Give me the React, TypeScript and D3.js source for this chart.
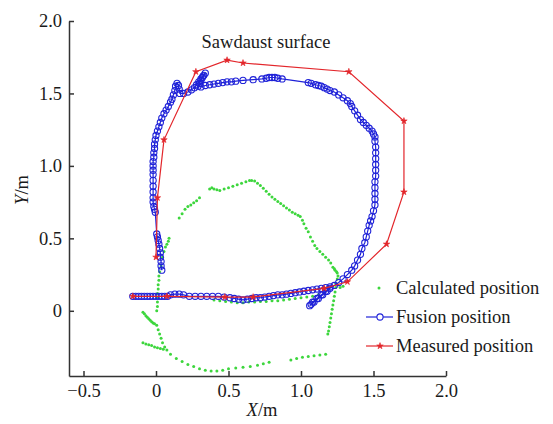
import React, { useEffect, useRef } from "react";
import * as d3 from "d3";

// tick labels
const xTicks = [-0.5, 0, 0.5, 1.0, 1.5, 2.0];
const yTicks = [0, 0.5, 1.0, 1.5, 2.0];

const seriesNames = ["Calculated position", "Fusion position", "Measured position"];

// measured (reference) path
const measuredPosition: [number, number][] = [
  [-0.16, 0.1], [0.075, 0.1], [0.475, 0.095], [0.67, 0.095], [1.16, 0.155], [1.32, 0.2],
  [1.59, 0.46], [1.71, 0.82], [1.71, 1.31], [1.33, 1.65], [0.6, 1.71], [0.49, 1.73],
  [0.275, 1.65], [0.055, 1.18], [0.01, 0.78], [0.0, 0.37],
];

// fusion path
const fusionPosition: [number, number][] = [
  [-0.16, 0.1], [-0.14, 0.1], [-0.12, 0.1], [-0.1, 0.1], [-0.08, 0.1], [-0.06, 0.1], [-0.04, 0.1],
  [-0.02, 0.1], [0.0, 0.1], [0.02, 0.1], [0.04, 0.1], [0.06, 0.1], [0.08, 0.1], [0.1, 0.11],
  [0.13, 0.115], [0.16, 0.115], [0.19, 0.11], [0.23, 0.1], [0.27, 0.1], [0.31, 0.1], [0.35, 0.1],
  [0.39, 0.1], [0.43, 0.1], [0.47, 0.095], [0.51, 0.09], [0.54, 0.085], [0.57, 0.08], [0.6, 0.075],
  [0.63, 0.08], [0.66, 0.085], [0.69, 0.09], [0.72, 0.09], [0.75, 0.095], [0.78, 0.1], [0.81, 0.105],
  [0.84, 0.11], [0.87, 0.11], [0.9, 0.115], [0.93, 0.12], [0.96, 0.125], [0.99, 0.13], [1.02, 0.135],
  [1.05, 0.14], [1.08, 0.145], [1.11, 0.15], [1.14, 0.155], [1.17, 0.16], [1.2, 0.165],
  [1.18, 0.135], [1.15, 0.11], [1.12, 0.085], [1.09, 0.06], [1.07, 0.045], [1.06, 0.035],
  [1.08, 0.06], [1.11, 0.085], [1.14, 0.11], [1.17, 0.135], [1.2, 0.155], [1.23, 0.175],
  [1.26, 0.195], [1.29, 0.22], [1.32, 0.25], [1.35, 0.28], [1.37, 0.31], [1.39, 0.35], [1.41, 0.39],
  [1.42, 0.43], [1.44, 0.47], [1.45, 0.51], [1.46, 0.55], [1.47, 0.59], [1.48, 0.62], [1.49, 0.65],
  [1.5, 0.69], [1.51, 0.73], [1.51, 0.77], [1.51, 0.81], [1.51, 0.85], [1.51, 0.89], [1.515, 0.93],
  [1.515, 0.97], [1.515, 1.01], [1.515, 1.05], [1.515, 1.09], [1.515, 1.13], [1.51, 1.17],
  [1.51, 1.2], [1.5, 1.22], [1.49, 1.24], [1.47, 1.26], [1.45, 1.28], [1.43, 1.3], [1.41, 1.32],
  [1.39, 1.35], [1.37, 1.38], [1.35, 1.41], [1.34, 1.43], [1.32, 1.45], [1.29, 1.47], [1.26, 1.49],
  [1.23, 1.51], [1.2, 1.52], [1.18, 1.53], [1.16, 1.54], [1.14, 1.55], [1.12, 1.555], [1.1, 1.56],
  [1.07, 1.57], [1.05, 1.575], [0.87, 1.6], [0.84, 1.605], [0.82, 1.61], [0.8, 1.61], [0.78, 1.61],
  [0.76, 1.605], [0.73, 1.6], [0.67, 1.595], [0.6, 1.59], [0.55, 1.585], [0.52, 1.58], [0.49, 1.58],
  [0.46, 1.575], [0.43, 1.57], [0.4, 1.565], [0.37, 1.56], [0.34, 1.555], [0.31, 1.545], [0.29, 1.55],
  [0.3, 1.57], [0.31, 1.59], [0.32, 1.61], [0.33, 1.625], [0.34, 1.64], [0.325, 1.62], [0.31, 1.6],
  [0.295, 1.58], [0.28, 1.56], [0.265, 1.54], [0.245, 1.525], [0.22, 1.51], [0.19, 1.5], [0.165, 1.5],
  [0.16, 1.53], [0.155, 1.555], [0.145, 1.57], [0.135, 1.55], [0.13, 1.52], [0.12, 1.49], [0.11, 1.46],
  [0.1, 1.44], [0.085, 1.41], [0.07, 1.385], [0.055, 1.36], [0.04, 1.33], [0.03, 1.3], [0.02, 1.27],
  [0.01, 1.24], [0.0, 1.21], [-0.005, 1.18], [-0.01, 1.15], [-0.01, 1.12], [-0.015, 1.09],
  [-0.015, 1.06], [-0.02, 1.03], [-0.02, 1.0], [-0.02, 0.97], [-0.02, 0.94], [-0.02, 0.9],
  [-0.02, 0.86], [-0.02, 0.82], [-0.02, 0.78], [-0.02, 0.75], [-0.015, 0.72], [-0.01, 0.7],
  [-0.005, 0.68], [0.005, 0.53], [0.01, 0.51], [0.015, 0.485], [0.02, 0.46], [0.025, 0.43],
  [0.03, 0.4], [0.03, 0.37], [0.035, 0.34], [0.035, 0.31], [0.04, 0.28],
];

// calculated positions (dots only)
const calculatedPosition: [number, number][] = [
  // left column
  [0.025, 0.27], [0.02, 0.24], [0.02, 0.21], [0.015, 0.18], [0.015, 0.15], [0.01, 0.12], [0.01, 0.09],
  [0.01, 0.06], [0.01, 0.03], [0.005, 0.0],
  [0.035, 0.31], [0.045, 0.37], [0.055, 0.41], [0.065, 0.44], [0.075, 0.46], [0.085, 0.48], [0.09, 0.5],
  // upper arc
  [0.16, 0.64], [0.18, 0.67], [0.2, 0.7], [0.22, 0.72], [0.24, 0.73], [0.26, 0.745], [0.28, 0.76],
  [0.3, 0.78], [0.37, 0.84], [0.385, 0.85], [0.4, 0.84], [0.42, 0.835], [0.44, 0.83], [0.47, 0.84],
  [0.5, 0.85], [0.53, 0.86], [0.56, 0.87], [0.59, 0.88], [0.62, 0.89], [0.645, 0.9], [0.66, 0.9],
  [0.68, 0.895], [0.7, 0.88], [0.72, 0.865], [0.74, 0.845], [0.76, 0.825], [0.78, 0.805],
  [0.8, 0.785], [0.82, 0.77], [0.84, 0.755], [0.86, 0.74], [0.88, 0.725], [0.9, 0.71], [0.92, 0.695],
  [0.94, 0.68], [0.96, 0.67], [0.98, 0.66], [0.995, 0.65], [1.01, 0.625], [1.02, 0.6], [1.035, 0.57],
  [1.05, 0.545], [1.065, 0.51], [1.08, 0.48], [1.095, 0.45], [1.11, 0.43], [1.13, 0.41], [1.15, 0.39],
  [1.17, 0.37], [1.19, 0.35], [1.205, 0.33], [1.22, 0.3], [1.23, 0.29], [1.235, 0.28], [1.245, 0.27],
  [1.25, 0.26], [1.255, 0.24], [1.25, 0.22], [1.24, 0.19], [1.24, 0.16], [1.235, 0.13], [1.23, 0.1],
  [1.225, 0.07], [1.22, 0.04], [1.215, 0.01], [1.21, -0.02], [1.205, -0.05], [1.2, -0.08],
  [1.195, -0.11], [1.19, -0.14], [1.185, -0.16], [1.27, 0.16], [1.29, 0.17],
  // band under the fusion line
  [0.4, 0.075], [0.44, 0.07], [0.48, 0.065], [0.52, 0.06], [0.56, 0.055], [0.6, 0.055], [0.64, 0.06],
  [0.68, 0.06], [0.72, 0.065], [0.76, 0.065], [0.8, 0.07], [0.84, 0.07], [0.88, 0.075], [0.92, 0.08],
  [0.96, 0.085], [1.0, 0.09], [1.04, 0.095], [1.08, 0.1], [1.12, 0.11],
  // lower left
  [-0.09, -0.01], [-0.08, -0.02], [-0.07, -0.035], [-0.06, -0.045], [-0.05, -0.055], [-0.04, -0.065],
  [-0.03, -0.075], [-0.02, -0.085], [-0.01, -0.09], [0.005, -0.1], [0.015, -0.13], [0.025, -0.16],
  [0.035, -0.19], [0.045, -0.22], [0.06, -0.25], [0.075, -0.27],
  [-0.09, -0.22], [-0.07, -0.23], [-0.05, -0.235], [-0.03, -0.24], [-0.01, -0.25], [0.01, -0.255],
  [0.03, -0.26], [0.05, -0.265],
  // bottom arc
  [0.1, -0.3], [0.14, -0.33], [0.18, -0.35], [0.22, -0.37], [0.26, -0.385], [0.3, -0.4], [0.34, -0.41],
  [0.38, -0.415], [0.42, -0.415], [0.46, -0.41], [0.5, -0.4], [0.55, -0.395], [0.6, -0.39],
  [0.65, -0.385], [0.7, -0.375], [0.74, -0.365], [0.78, -0.355],
  [0.93, -0.34], [0.97, -0.33], [1.01, -0.32], [1.05, -0.315], [1.09, -0.31], [1.13, -0.305],
  [1.17, -0.3],
];

const GREEN = "#3dd63d";
const BLUE = "#1f22d8";
const RED = "#e3262b";
const FONT = "'Liberation Serif', 'Times New Roman', serif";
const FS = 18.5;

function fmt(v: number) {
  if (v === 0) return "0";
  return (v < 0 ? "\u2212" : "") + Math.abs(v).toFixed(1);
}

function App() {
  const chart = useRef<SVGSVGElement>(null);

  function drawChart() {
    const svg = d3.select(chart.current);
    svg.selectAll("*").remove();

    const x = d3.scaleLinear().domain([-0.6, 2.0]).range([69, 446]);
    const y = d3.scaleLinear().domain([-0.45, 2.0]).range([376, 21]);

    // calculated dots
    svg
      .append("g")
      .selectAll("circle")
      .data(calculatedPosition)
      .enter()
      .append("circle")
      .attr("cx", (d) => x(d[0]))
      .attr("cy", (d) => y(d[1]))
      .attr("r", 1.5)
      .attr("fill", GREEN);

    const line = d3
      .line<[number, number]>()
      .x((d) => x(d[0]))
      .y((d) => y(d[1]));

    // fusion
    svg
      .append("path")
      .attr("d", line(fusionPosition))
      .attr("fill", "none")
      .attr("stroke", BLUE)
      .attr("stroke-width", 1.2);
    svg
      .append("g")
      .selectAll("circle")
      .data(fusionPosition)
      .enter()
      .append("circle")
      .attr("cx", (d) => x(d[0]))
      .attr("cy", (d) => y(d[1]))
      .attr("r", 3.1)
      .attr("fill", "none")
      .attr("stroke", BLUE)
      .attr("stroke-width", 1.1);

    // measured
    const star = d3.symbol().type(d3.symbolStar).size(13);
    svg
      .append("path")
      .attr("d", line(measuredPosition))
      .attr("fill", "none")
      .attr("stroke", RED)
      .attr("stroke-width", 1.2);
    svg
      .append("g")
      .selectAll("path")
      .data(measuredPosition)
      .enter()
      .append("path")
      .attr("d", star() as string)
      .attr("transform", (d) => "translate(" + x(d[0]) + "," + y(d[1]) + ")")
      .attr("fill", RED)
      .attr("stroke", RED)
      .attr("stroke-width", 0.6);

    // axes
    const xAxis = d3
      .axisBottom(x)
      .tickValues(xTicks)
      .tickFormat((d) => fmt(d as number))
      .tickSizeInner(-5)
      .tickSizeOuter(0)
      .tickPadding(8);
    const yAxis = d3
      .axisLeft(y)
      .tickValues(yTicks)
      .tickFormat((d) => fmt(d as number))
      .tickSizeInner(-5)
      .tickSizeOuter(0)
      .tickPadding(7);

    const gx = svg.append("g").attr("transform", "translate(0,376)").call(xAxis);
    const gy = svg.append("g").attr("transform", "translate(69,0)").call(yAxis);
    [gx, gy].forEach((g) => {
      g.selectAll("path, line").attr("stroke", "#333").attr("stroke-width", 1.5);
      g.selectAll("text").attr("font-family", FONT).attr("font-size", FS).attr("fill", "#1a1a1a");
    });

    // title and axis labels
    svg
      .append("text")
      .attr("x", 266)
      .attr("y", 48)
      .attr("text-anchor", "middle")
      .attr("font-family", FONT)
      .attr("font-size", FS)
      .attr("fill", "#1a1a1a")
      .text("Sawdaust surface");

    const xl = svg
      .append("text")
      .attr("x", 262)
      .attr("y", 416)
      .attr("text-anchor", "middle")
      .attr("font-family", FONT)
      .attr("font-size", FS)
      .attr("fill", "#1a1a1a");
    xl.append("tspan").attr("font-style", "italic").text("X");
    xl.append("tspan").text("/m");

    const yl = svg
      .append("text")
      .attr("transform", "translate(28,190) rotate(-90)")
      .attr("text-anchor", "middle")
      .attr("font-family", FONT)
      .attr("font-size", FS)
      .attr("fill", "#1a1a1a");
    yl.append("tspan").attr("font-style", "italic").text("Y");
    yl.append("tspan").text("/m");

    // legend
    const legend = svg
      .selectAll(".legend")
      .data(seriesNames)
      .enter()
      .append("g")
      .attr("class", "legend")
      .attr("transform", (d, i) => "translate(0," + (288 + i * 29) + ")");

    legend
      .append("text")
      .attr("x", 396)
      .attr("y", 6)
      .attr("font-family", FONT)
      .attr("font-size", FS)
      .attr("fill", "#1a1a1a")
      .text((d) => d);

    legend.each(function (d, i) {
      const g = d3.select(this);
      if (i === 0) {
        g.append("circle").attr("cx", 379).attr("cy", 0).attr("r", 1.5).attr("fill", GREEN);
      } else if (i === 1) {
        g.append("line").attr("x1", 366).attr("x2", 393).attr("stroke", BLUE).attr("stroke-width", 1.2);
        g.append("circle")
          .attr("cx", 380)
          .attr("r", 3.1)
          .attr("fill", "white")
          .attr("stroke", BLUE)
          .attr("stroke-width", 1.1);
      } else {
        g.append("line").attr("x1", 366).attr("x2", 393).attr("stroke", RED).attr("stroke-width", 1.2);
        g.append("path")
          .attr("d", star() as string)
          .attr("transform", "translate(380,0)")
          .attr("fill", RED)
          .attr("stroke", RED)
          .attr("stroke-width", 0.6);
      }
    });
  }

  useEffect(() => {
    drawChart();
  }, []);

  return (
    <svg
      ref={chart}
      width={553}
      height={424}
      style={{ position: "absolute", left: 0, top: 0, background: "white" }}
    ></svg>
  );
}

export default App;
